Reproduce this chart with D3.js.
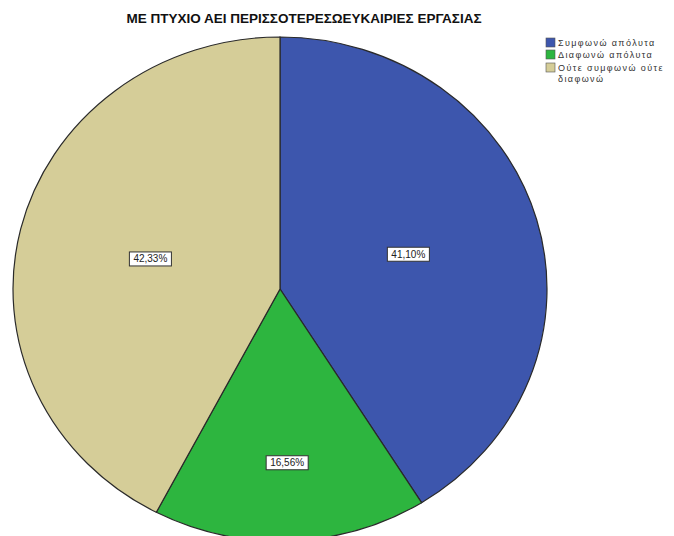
<!DOCTYPE html>
<html>
<head>
<meta charset="utf-8">
<script src="https://cdn.jsdelivr.net/npm/d3@7"></script>
<style>
  html, body { margin: 0; padding: 0; background: #fff; }
  svg { display: block; }
</style>
</head>
<body>
<svg id="chart" width="674" height="536"></svg>
<script>
const title = "ΜΕ ΠΤΥΧΙΟ ΑΕΙ ΠΕΡΙΣΣΟΤΕΡΕΣΩΕΥΚΑΙΡΙΕΣ ΕΡΓΑΣΙΑΣ";
const categories = ["Συμφωνώ απόλυτα", "Διαφωνώ απόλυτα", "Ούτε συμφωνώ ούτε διαφωνώ"];
const legendLines = [["Συμφωνώ απόλυτα"], ["Διαφωνώ απόλυτα"], ["Ούτε συμφωνώ ούτε", "διαφωνώ"]];
const values = [41.10, 16.56, 42.33];
const colors = ["#3d56ad", "#2db53f", "#d5cd98"];

const svg = d3.select("#chart");
const cx = 280, cy = 289, rx = 267, ry = 252;

svg.append("text")
  .attr("x", 304).attr("y", 23)
  .attr("text-anchor", "middle")
  .attr("font-family", "Liberation Sans, Arial, sans-serif")
  .attr("font-weight", "bold")
  .attr("font-size", 13.5)
  .attr("fill", "#111")
  .text(title);

const data = categories.map((c, i) => ({ cat: c, value: values[i], color: colors[i] }));
const pie = d3.pie().sort(null).value(d => d.value);
const arcs = pie(data);
const R = 100;
const arc = d3.arc().innerRadius(0).outerRadius(R);

const g = svg.append("g").attr("transform", `translate(${cx},${cy})`);
const pg = g.append("g").attr("transform", `scale(${rx / R},${ry / R})`);
pg.selectAll("path").data(arcs).enter().append("path")
  .attr("d", arc)
  .attr("fill", d => d.data.color)
  .attr("stroke", "#2a2a2a")
  .attr("stroke-width", 1.2)
  .attr("vector-effect", "non-scaling-stroke");

// labels
arcs.forEach(a => {
  const mid = (a.startAngle + a.endAngle) / 2;
  const frac = (a.endAngle - a.startAngle) < Math.PI / 2 ? 0.69 : 0.5;
  const x = Math.sin(mid) * rx * frac;
  const y = -Math.cos(mid) * ry * frac;
  const txt = a.data.value.toFixed(2).replace(".", ",") + "%";
  const lg = g.append("g").attr("transform", `translate(${x},${y})`);
  const t = lg.append("text")
    .attr("text-anchor", "middle")
    .attr("dy", "0.35em")
    .attr("font-family", "Liberation Sans, Arial, sans-serif")
    .attr("font-size", 10)
    .attr("fill", "#222")
    .text(txt);
  const bb = t.node().getBBox();
  lg.insert("rect", "text")
    .attr("x", bb.x - 4).attr("y", bb.y - 1.5)
    .attr("width", bb.width + 8).attr("height", bb.height + 3)
    .attr("fill", "#fff")
    .attr("stroke", "#333")
    .attr("stroke-width", 1);
});

// legend
const leg = svg.append("g").attr("transform", "translate(546,38)");
const rowY = [0, 12, 25];
data.forEach((d, i) => {
  const row = leg.append("g").attr("transform", `translate(0,${rowY[i]})`);
  row.append("rect")
    .attr("x", 0).attr("y", 0).attr("width", 9).attr("height", 9)
    .attr("fill", d.color).attr("stroke", "#555").attr("stroke-width", 0.6);
  legendLines[i].forEach((ln, j) => {
    row.append("text")
      .attr("x", 12).attr("y", 8 + j * 10.5)
      .attr("font-family", "Liberation Sans, Arial, sans-serif")
      .attr("font-size", 9)
      .attr("letter-spacing", 1.4)
      .attr("fill", "#333")
      .text(ln);
  });
});
</script>
</body>
</html>
